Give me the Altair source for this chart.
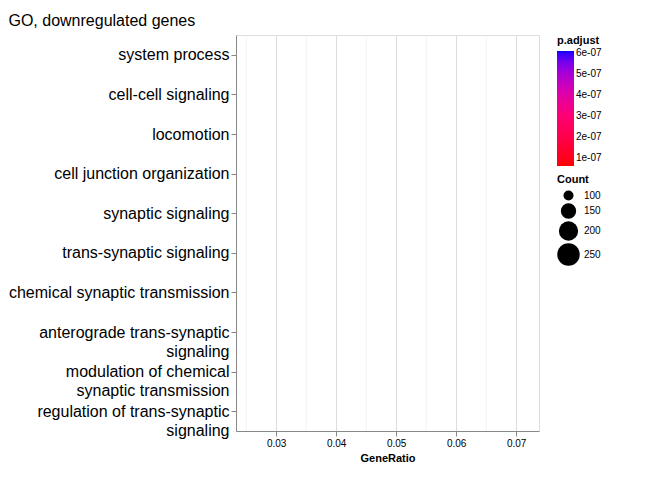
import altair as alt
import pandas as pd

terms = ["system process", "cell-cell signaling", "locomotion", "cell junction organization",
         "synaptic signaling", "trans-synaptic signaling", "chemical synaptic transmission",
         "anterograde trans-synaptic|signaling", "modulation of chemical|synaptic transmission",
         "regulation of trans-synaptic|signaling"]
gene_ratio = [0.0717, 0.0717, 0.0666, 0.0596, 0.0481, 0.0479, 0.0477, 0.0477, 0.0256, 0.0256]
counts = [270, 270, 251, 225, 181, 180, 180, 180, 96, 96]
p_adjust = [1.5e-07, 2.6e-07, 1.4e-07, 0.7e-07, 2.0e-07, 1.7e-07, 1.6e-07, 1.7e-07, 6.1e-07, 6.1e-07]
minor_grid = [0.025, 0.035, 0.045, 0.055, 0.065]

df = pd.DataFrame({"term": terms, "GeneRatio": gene_ratio, "Count": counts, "p.adjust": p_adjust})
grid = pd.DataFrame({"g": minor_grid})

xscale = alt.Scale(domain=[0.0233, 0.0738], nice=False, zero=False)

minor = alt.Chart(grid).mark_rule(color="#ebebeb", strokeWidth=0.6).encode(
    x=alt.X("g:Q", scale=xscale)
)

points = alt.Chart(df).mark_circle(opacity=1).encode(
    x=alt.X("GeneRatio:Q", scale=xscale, title="GeneRatio",
            axis=alt.Axis(values=[0.03, 0.04, 0.05, 0.06, 0.07], format=".2f")),
    y=alt.Y("term:N", sort=terms, title=None,
            scale=alt.Scale(paddingInner=1, paddingOuter=0.5),
            axis=alt.Axis(labelExpr="split(datum.label, '|')", labelFontSize=16,
                          labelColor="black", labelLimit=300, labelLineHeight=19)),
    size=alt.Size("Count:Q", scale=alt.Scale(domain=[96, 270], range=[90, 560]),
                  legend=alt.Legend(values=[100, 150, 200, 250], symbolFillColor="black",
                                    symbolStrokeWidth=0)),
    color=alt.Color("p.adjust:Q",
                    scale=alt.Scale(domain=[0.6e-07, 6.1e-07], range=["#ff0000", "#0000ff"]),
                    legend=alt.Legend(values=[1e-07, 2e-07, 3e-07, 4e-07, 5e-07, 6e-07],
                                      labelExpr="replace(format(datum.value, '.0e'), 'e-', 'e-0')",
                                      gradientLength=115, gradientThickness=17)),
)

chart = (minor + points).properties(
    width=303, height=396,
    title=alt.TitleParams("GO, downregulated genes", anchor="start", fontSize=16,
                          fontWeight="normal", font="Liberation Sans", offset=6)
).configure_view(stroke="#4d4d4d", strokeWidth=1).configure_axis(
    gridColor="#ebebeb", domain=False, tickColor="#333333", tickSize=3,
    labelFont="Liberation Sans", titleFont="Liberation Sans", labelFontSize=16,
    labelColor="#4d4d4d", titleFontSize=16, titleFontWeight="normal", titleColor="black"
).configure_legend(
    titleFont="Liberation Sans", labelFont="Liberation Sans", titleFontSize=13,
    titleFontWeight="normal", labelFontSize=11, titleColor="black", labelColor="black",
    offset=16, rowPadding=8, padding=0, titlePadding=8
).configure(padding={"left": 0, "top": 4, "right": 0, "bottom": 0})

chart.save("out.html", embed_options={"renderer": "svg", "actions": False})
